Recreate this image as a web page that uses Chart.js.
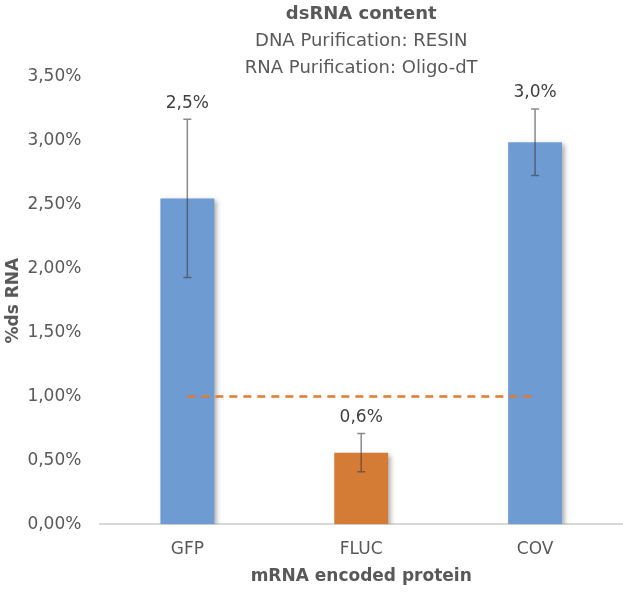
<!DOCTYPE html>
<html lang="en">
<head>
  <meta charset="UTF-8" />
  <title>dsRNA content</title>
  <script src="https://cdn.jsdelivr.net/npm/chart.js"></script>
  <style>
    body { margin: 0; background: #ffffff; }
    #wrap { width: 623px; height: 592px; }
  </style>
</head>
<body>
  <div id="wrap"><canvas id="dsChart" width="623" height="592"></canvas></div>

  <script>
    // data
    const proteins = ['GFP', 'FLUC', 'COV'];
    const dsValues = [2.55, 0.56, 2.99];
    const dsErrors = [0.62, 0.15, 0.26];
    const thresholdLine = [1.0, 1.0, 1.0];
    const barColors = ['#6f9bd3', '#d47b36', '#6f9bd3'];
    const yTicks = [0, 0.5, 1, 1.5, 2, 2.5, 3, 3.5];

    const FONT = "'DejaVu Sans', sans-serif";
    const GREY = '#595959';

    const fmt = (v, d) => v.toFixed(d).replace('.', ',') + '%';

    // soft shadow under the bars, like the office chart
    const barShadow = {
      id: 'barShadow',
      beforeDatasetDraw(chart, args) {
        if (args.index !== 0) return;
        const ctx = chart.ctx;
        ctx.save();
        ctx.shadowColor = 'rgba(0,0,0,0.35)';
        ctx.shadowBlur = 5;
        ctx.shadowOffsetX = 3;
        ctx.shadowOffsetY = 2;
      },
      afterDatasetDraw(chart, args) {
        if (args.index !== 0) return;
        chart.ctx.restore();
      }
    };

    // error bars + value labels
    const errorBars = {
      id: 'errorBars',
      afterDatasetsDraw(chart) {
        const ctx = chart.ctx;
        const y = chart.scales.y;
        const meta = chart.getDatasetMeta(0);
        ctx.save();
        meta.data.forEach((bar, i) => {
          const x = bar.x;
          const top = y.getPixelForValue(dsValues[i] + dsErrors[i]);
          const bot = y.getPixelForValue(dsValues[i] - dsErrors[i]);
          ctx.strokeStyle = 'rgba(60,60,60,0.6)';
          ctx.lineWidth = 1.5;
          ctx.beginPath();
          ctx.moveTo(x, top); ctx.lineTo(x, bot);
          ctx.moveTo(x - 4, top); ctx.lineTo(x + 4, top);
          ctx.moveTo(x - 4, bot); ctx.lineTo(x + 4, bot);
          ctx.stroke();

          ctx.fillStyle = '#404040';
          ctx.font = '17px ' + FONT;
          ctx.textAlign = 'center';
          ctx.textBaseline = 'middle';
          ctx.fillText(fmt(dsValues[i], 1), x, top - 16);
        });
        ctx.restore();
      }
    };

    new Chart(document.getElementById('dsChart'), {
      data: {
        labels: proteins,
        datasets: [
          {
            type: 'bar',
            data: dsValues,
            backgroundColor: barColors,
            borderWidth: 0,
            categoryPercentage: 1,
            barPercentage: 0.31,
            order: 2
          },
          {
            type: 'line',
            data: thresholdLine,
            borderColor: '#e07b30',
            borderWidth: 2.5,
            borderDash: [8, 6],
            pointRadius: 0,
            fill: false,
            order: 1
          }
        ]
      },
      options: {
        responsive: false,
        animation: false,
        layout: { padding: { left: 0, right: 1, top: 0, bottom: 0 } },
        plugins: {
          legend: { display: false },
          tooltip: { enabled: false },
          title: {
            display: true,
            fullSize: false,
            text: 'dsRNA content',
            color: GREY,
            font: { family: FONT, size: 18, weight: 'bold', lineHeight: 1.5 },
            padding: { top: 1, bottom: 0 }
          },
          subtitle: {
            display: true,
            fullSize: false,
            text: ['DNA Purification: RESIN', 'RNA Purification: Oligo-dT'],
            color: GREY,
            font: { family: FONT, size: 18, lineHeight: 1.5 },
            padding: { top: 0, bottom: -5 }
          }
        },
        scales: {
          x: {
            offset: true,
            grid: { display: true, color: 'transparent', drawTicks: false },
            border: { display: true, color: '#d9d9d9', width: 2 },
            ticks: { color: GREY, font: { family: FONT, size: 17 }, padding: 15 },
            title: {
              display: true,
              text: 'mRNA encoded protein',
              color: GREY,
              font: { family: FONT, size: 17, weight: 'bold' },
              padding: { top: -8, bottom: 5 }
            }
          },
          y: {
            min: 0,
            max: 3.5,
            afterBuildTicks: axis => { axis.ticks = yTicks.map(v => ({ value: v })); },
            grid: { display: false, drawTicks: false },
            border: { display: false },
            ticks: {
              color: GREY,
              font: { family: FONT, size: 17 },
              padding: 19,
              callback: v => fmt(v, 2)
            },
            title: {
              display: true,
              text: '%ds RNA',
              color: GREY,
              font: { family: FONT, size: 17, weight: 'bold' },
              padding: { top: 3, bottom: -15 }
            }
          }
        }
      },
      plugins: [barShadow, errorBars]
    });
  </script>
</body>
</html>
